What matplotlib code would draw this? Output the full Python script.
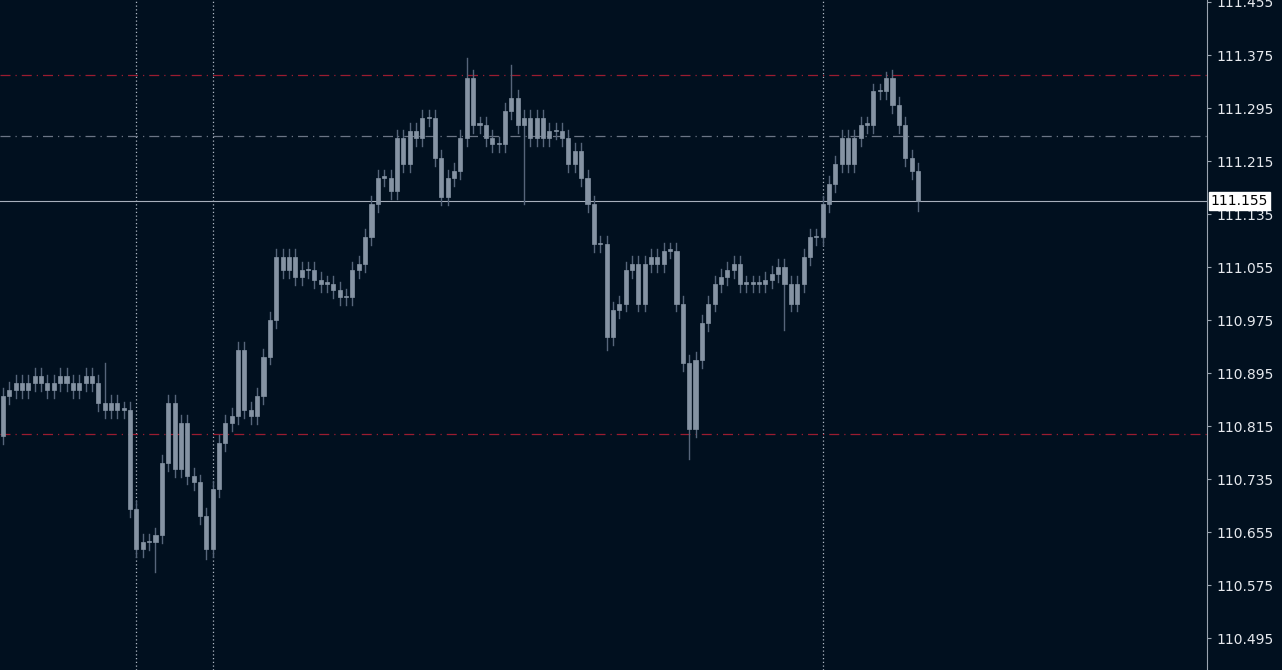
import numpy as np
import matplotlib.pyplot as plt
from matplotlib.patches import Rectangle

# close prices, one per candle
closes = [110.86, 110.87, 110.88, 110.87, 110.88, 110.89, 110.88, 110.87, 110.88, 110.89,
          110.88, 110.87, 110.88, 110.89, 110.88, 110.85, 110.84, 110.85, 110.84, 110.84,
          110.69, 110.63, 110.64, 110.64, 110.65, 110.76, 110.85, 110.75, 110.82, 110.74,
          110.73, 110.68, 110.63, 110.72, 110.79, 110.82, 110.83, 110.93, 110.84, 110.83,
          110.86, 110.92, 110.975, 111.07, 111.05, 111.07, 111.04, 111.05, 111.05, 111.035,
          111.03, 111.03, 111.02, 111.01, 111.01, 111.05, 111.06, 111.10, 111.15, 111.19,
          111.19, 111.17, 111.25, 111.21, 111.26, 111.25, 111.28, 111.28, 111.22, 111.16,
          111.19, 111.20, 111.25, 111.34, 111.27, 111.27, 111.25, 111.24, 111.24, 111.29,
          111.31, 111.27, 111.28, 111.25, 111.28, 111.25, 111.26, 111.26, 111.25, 111.21,
          111.23, 111.19, 111.15, 111.09, 111.09, 110.95, 110.99, 111.00, 111.05, 111.06,
          111.00, 111.06, 111.07, 111.06, 111.08, 111.08, 111.00, 110.91, 110.81, 110.915,
          110.97, 111.00, 111.03, 111.04, 111.05, 111.06, 111.03, 111.03, 111.03, 111.03,
          111.035, 111.045, 111.055, 111.03, 111.00, 111.03, 111.07, 111.10, 111.10, 111.15,
          111.18, 111.21, 111.25, 111.21, 111.25, 111.27, 111.27, 111.32, 111.32, 111.34,
          111.30, 111.27, 111.22, 111.20, 111.155]
first_open = 110.80
wick = 0.012
# candles with long wicks: index -> (high, low)
spikes = {16: (110.91, None), 24: (None, 110.595), 32: (None, 110.615),
          73: (111.37, None), 80: (111.36, None), 82: (None, 111.15),
          95: (None, 110.93), 108: (None, 110.765), 123: (None, 110.96),
          139: (111.35, None), 144: (None, 111.14)}

level_red = [111.345, 110.803]
level_gray = [111.253]
last_price = 111.155
vlines_idx = [21, 33, 129]
yticks = np.arange(110.495, 111.46, 0.08)

bg = '#01101f'
body_col = '#8593a3'
wick_col = '#56657a'

fig = plt.figure(figsize=(12.82, 6.70), dpi=100, facecolor=bg)
ax = fig.add_axes([0, 0, 1207/1282, 1], facecolor=bg)

opens = [first_open] + closes[:-1]
for i, (o, c) in enumerate(zip(opens, closes)):
    hi = max(o, c) + wick
    lo = min(o, c) - wick
    if i in spikes:
        h, l = spikes[i]
        hi = h if h else hi
        lo = l if l else lo
    ax.plot([i, i], [lo, hi], color=wick_col, lw=1, zorder=2)
    b = max(abs(c - o), 0.002)
    ax.add_patch(Rectangle((i - 0.32, min(o, c)), 0.64, b, facecolor=body_col,
                           edgecolor=body_col, lw=0.5, zorder=3))

for v in vlines_idx:
    ax.axvline(v, color='#b0b8c4', lw=0.9, ls=(0, (1, 2)), zorder=1)
for y in level_red:
    ax.axhline(y, color='#9a1c30', lw=0.9, ls=(0, (8, 4, 1, 4)), zorder=1)
for y in level_gray:
    ax.axhline(y, color='#6b7585', lw=0.9, ls=(0, (8, 4, 1, 4)), zorder=1)
ax.axhline(last_price, color='#a8b0bc', lw=0.8, zorder=1)

ax.set_xlim(-0.47, 189.5)
ax.set_ylim(110.447, 111.458)
ax.yaxis.tick_right()
ax.set_yticks(yticks)
ax.set_yticklabels(['%.3f' % t for t in yticks], color='#e6e9ee', fontsize=10)
ax.tick_params(axis='y', length=3, color='#9aa4b0', pad=4)
ax.set_xticks([])
for s in ['top', 'left', 'bottom']:
    ax.spines[s].set_visible(False)
ax.spines['right'].set_color('#9aa4b0')

ax.text(1.003, (last_price - 110.447) / (111.458 - 110.447), '%.3f' % last_price,
        transform=ax.transAxes, fontsize=10, color='black', va='center', ha='left',
        bbox=dict(facecolor='white', edgecolor='white', pad=1.5), zorder=5)

fig.savefig('out.png', dpi=100, facecolor=bg)
